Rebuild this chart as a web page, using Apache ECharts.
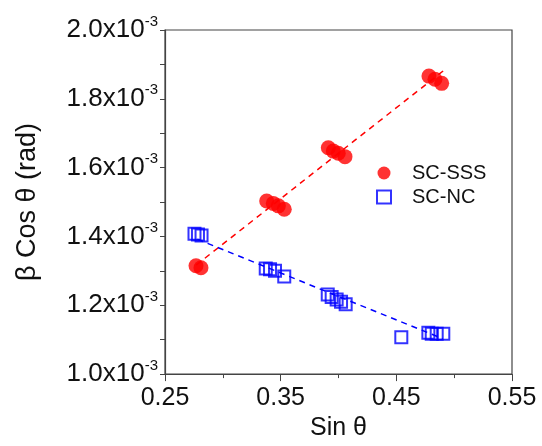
<!DOCTYPE html>
<html>
<head>
<meta charset="utf-8">
<script src="https://cdn.jsdelivr.net/npm/echarts@6/dist/echarts.min.js"></script>
<style>
  html, body { margin: 0; padding: 0; background: #fff; }
  #main { width: 542px; height: 446px; }
</style>
</head>
<body>
<div id="main"></div>
<script>
// y values are in units of 1e-3 rad
var sssX = [0.2768, 0.2811, 0.3379, 0.3436, 0.3480, 0.3531, 0.3912, 0.3955, 0.3998, 0.4056, 0.4782, 0.4834, 0.4892];
var sssY = [1.315, 1.309, 1.503, 1.496, 1.489, 1.479, 1.658, 1.648, 1.642, 1.632, 1.866, 1.857, 1.845];

var ncX = [0.2755, 0.2785, 0.2816, 0.3371, 0.3408, 0.3451, 0.3531, 0.3907, 0.3941, 0.3984, 0.4022, 0.4062, 0.4543, 0.4777, 0.4806, 0.4849, 0.4906];
var ncY = [1.408, 1.406, 1.403, 1.307, 1.305, 1.300, 1.284, 1.231, 1.224, 1.217, 1.210, 1.203, 1.107, 1.120, 1.117, 1.117, 1.117];

// dashed fit lines, end points
var sssFitX = [0.277, 0.492];
var sssFitY = [1.317, 1.885];
var ncFitX = [0.278, 0.490];
var ncFitY = [1.392, 1.103];

var seriesNames = ['SC-SSS', 'SC-NC'];

function pairs(xs, ys) {
  return xs.map(function (x, i) { return [x, ys[i]]; });
}

var font = "'Liberation Sans', Arial, sans-serif";
var axisColor = '#444';

var myChart = echarts.init(document.getElementById('main'));
myChart.setOption({
  backgroundColor: '#fff',
  animation: false,
  grid: {
    left: 165, right: 30, top: 30, bottom: 67,
    show: true, borderColor: axisColor, borderWidth: 1.2
  },
  legend: {
    data: seriesNames,
    orient: 'vertical',
    left: 371,
    top: 158,
    itemWidth: 14,
    itemHeight: 13,
    itemGap: 4,
    textStyle: { fontFamily: font, fontSize: 20, color: '#111', padding: [0, 0, 0, 16] }
  },
  xAxis: {
    type: 'value',
    min: 0.25, max: 0.55, interval: 0.1,
    name: 'Sin θ',
    nameLocation: 'middle',
    nameGap: 41,
    nameTextStyle: { fontFamily: font, fontSize: 25, color: '#111' },
    axisLine: { show: true, lineStyle: { color: axisColor, width: 1.2 } },
    axisTick: { show: true, inside: false, length: 7, lineStyle: { color: axisColor } },
    minorTick: { show: true, splitNumber: 2, length: 4, lineStyle: { color: axisColor } },
    axisLabel: {
      margin: 12, fontFamily: font, fontSize: 25, color: '#111',
      formatter: function (v) { return v.toFixed(2); }
    },
    splitLine: { show: false }
  },
  yAxis: {
    type: 'value',
    min: 1.0, max: 2.0, interval: 0.2,
    name: 'β Cos θ (rad)',
    nameLocation: 'middle',
    nameGap: 124,
    nameRotate: 90,
    nameTextStyle: { fontFamily: font, fontSize: 27, color: '#111' },
    axisLine: { show: true, lineStyle: { color: axisColor, width: 1.2 } },
    axisTick: { show: true, inside: false, length: 5, lineStyle: { color: axisColor } },
    minorTick: { show: true, splitNumber: 2, length: 5, lineStyle: { color: axisColor } },
    axisLabel: {
      margin: 7,
      formatter: function (v) { return '{a|' + v.toFixed(1) + 'x10}{b|-3}'; },
      rich: {
        a: { fontFamily: font, fontSize: 26, color: '#111' },
        b: { fontFamily: font, fontSize: 15, color: '#111', padding: [0, 0, 17, 0] }
      }
    },
    splitLine: { show: false }
  },
  series: [
    {
      name: 'sss-fit',
      type: 'line',
      data: pairs(sssFitX, sssFitY),
      symbol: 'none',
      silent: true,
      lineStyle: { color: '#ff0000', width: 1.5, type: [6, 5] },
      z: 1
    },
    {
      name: 'nc-fit',
      type: 'line',
      data: pairs(ncFitX, ncFitY),
      symbol: 'none',
      silent: true,
      lineStyle: { color: '#0000ff', width: 1.5, type: [6, 5] },
      z: 1
    },
    {
      name: seriesNames[0],
      type: 'scatter',
      data: pairs(sssX, sssY),
      symbol: 'circle',
      symbolSize: 15,
      itemStyle: { color: '#ff0000' },
      z: 3
    },
    {
      name: seriesNames[1],
      type: 'scatter',
      data: pairs(ncX, ncY),
      symbol: 'rect',
      symbolSize: 12,
      itemStyle: { color: 'rgba(255,255,255,0)', borderColor: '#0000ff', borderWidth: 2 },
      z: 3
    }
  ]
});
</script>
</body>
</html>
